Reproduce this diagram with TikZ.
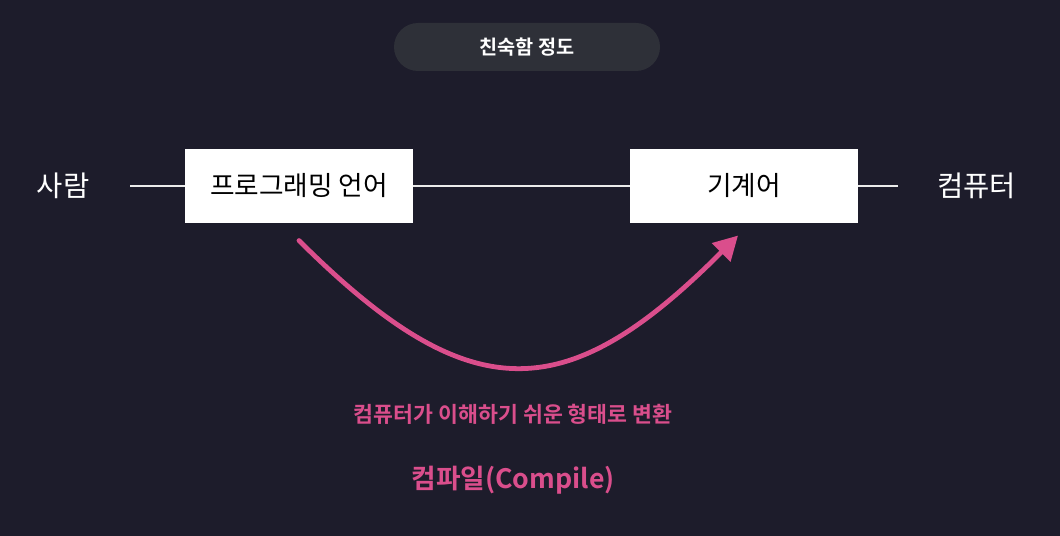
\documentclass[tikz,border=0pt]{standalone}
\usepackage{fontspec}
\setmainfont{Noto Sans CJK KR}
\newfontfamily\boldkr{Noto Sans CJK KR Bold}
\usepackage{xcolor}
\usetikzlibrary{positioning,arrows.meta}

\definecolor{sfondo}{RGB}{29,28,43}
\definecolor{pillola}{RGB}{46,48,56}
\definecolor{rosa}{RGB}{218,78,140}

\tikzset{
  langbox/.style={fill=white, draw=white, line width=0.8pt, minimum width=5.65cm, minimum height=1.8cm, text=black, font=\fontsize{19}{22}\selectfont},
  endlabel/.style={text=white, font=\fontsize{20.3}{24}\selectfont},
  wire/.style={draw=white!92!black, line width=1.6pt},
  pinktext/.style={text=rosa, font=\boldkr\fontsize{15.4}{18}\selectfont},
}

\begin{document}
\begin{tikzpicture}
        % Sfondo
        \useasboundingbox (0,0) rectangle (26.5,-13.4);
        \fill[sfondo] (0,0) rectangle (26.5,-13.4);

        % Titolo
        \node[fill=pillola, rounded corners=0.6cm, minimum width=6.65cm, minimum height=1.2cm,
              text=white, font=\boldkr\fontsize{14}{17}\selectfont] (title) at (13.175,-1.175) {친숙함 정도};

        % Estremi e riquadri
        \node[endlabel] (person) at (1.575,-4.65) {사람};
        \node[langbox] (prog) at (7.475,-4.65) {프로그래밍 언어};
        \node[langbox] (mach) at (18.6,-4.65) {기계어};
        \node[endlabel] (comp) at (24.42,-4.65) {컴퓨터};

        % Linee
        \draw[wire, shorten <=0.9cm] (person) -- (prog);
        \draw[wire] (prog) -- (mach);
        \draw[wire, shorten >=0.85cm] (mach) -- (comp);

        % Freccia di compilazione
        \coordinate (cstart) at ([yshift=-0.45cm]prog.south);
        \coordinate (cend) at ([xshift=-0.15cm, yshift=-0.325cm]mach.south);
        \draw[rosa, line width=3.4pt, line cap=round, -{Triangle[length=17pt,width=18pt]}]
            (cstart) .. controls (11.775,-10.3) and (14.175,-10.175) .. (cend);

        % Annotazioni
        \node[pinktext] (note) at (12.83,-10.35) {컴퓨터가 이해하기 쉬운 형태로 변환};
        \node[pinktext, font=\boldkr\fontsize{19}{22}\selectfont] (compile) at (12.83,-12.0) {컴파일(Compile)};
    \end{tikzpicture}
\end{document}
